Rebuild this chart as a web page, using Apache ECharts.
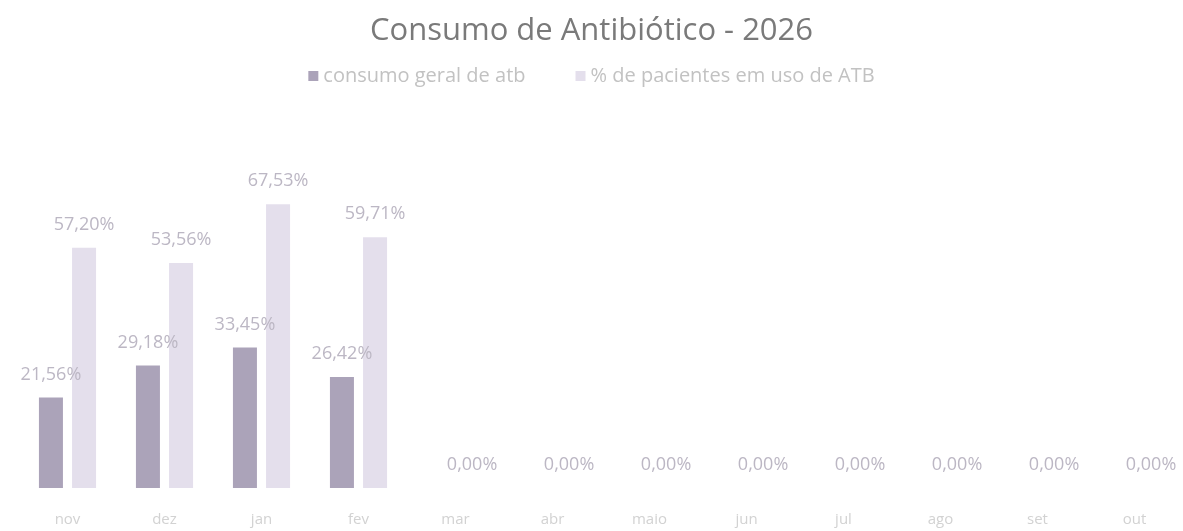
<!DOCTYPE html>
<html>
<head>
<meta charset="utf-8">
<script src="https://cdn.jsdelivr.net/npm/echarts@6/dist/echarts.min.js"></script>
<style>html,body{margin:0;padding:0;background:#fff}#c{width:1183px;height:531px}</style>
</head>
<body>
<div id="c"></div>
<script>
var categories = ['nov','dez','jan','fev','mar','abr','maio','jun','jul','ago','set','out'];
var consumoGeral = [21.56, 29.18, 33.45, 26.42, null, null, null, null, null, null, null, null];
var pacientesATB = [57.20, 53.56, 67.53, 59.71, 0, 0, 0, 0, 0, 0, 0, 0];
var seriesNames = ['consumo geral de atb', '% de pacientes em uso de ATB'];

function fmt(p){ return p.value.toFixed(2).replace('.', ',') + '%'; }

var chart = echarts.init(document.getElementById('c'));
chart.setOption({
  animation: false,
  title: {
    text: 'Consumo de Antibiótico - 2026',
    left: 'center', top: 11,
    textStyle: { fontFamily: 'Open Sans', fontSize: 31, fontWeight: 'normal', color: '#7a7a7a' }
  },
  legend: {
    top: 61, left: 'center', itemGap: 50, itemWidth: 10, itemHeight: 10,
    icon: 'rect',
    textStyle: { fontFamily: 'Open Sans', fontSize: 20, color: '#c2c2c2' }
  },
  grid: { left: 19, right: 0, top: 152, bottom: 43 },
  xAxis: {
    type: 'category', data: categories,
    axisLine: { show: false }, axisTick: { show: false },
    axisLabel: { margin: 24, fontFamily: 'Open Sans', fontSize: 15, color: '#d2d2d2' }
  },
  yAxis: { type: 'value', min: 0, max: 80, show: false, splitLine: { show: false } },
  series: [
    {
      name: seriesNames[0], type: 'bar', data: consumoGeral, barWidth: 24, barGap: '38%',
      itemStyle: { color: '#aba3b9' },
      label: { show: true, position: 'top', distance: 14, formatter: fmt,
        fontFamily: 'Open Sans', fontSize: 18, color: '#bcb7c4' }
    },
    {
      name: seriesNames[1], type: 'bar', data: pacientesATB, barWidth: 24,
      itemStyle: { color: '#e4dfec' },
      label: { show: true, position: 'top', distance: 14, formatter: fmt,
        fontFamily: 'Open Sans', fontSize: 18, color: '#bcb7c4' }
    }
  ]
});
</script>
</body>
</html>
